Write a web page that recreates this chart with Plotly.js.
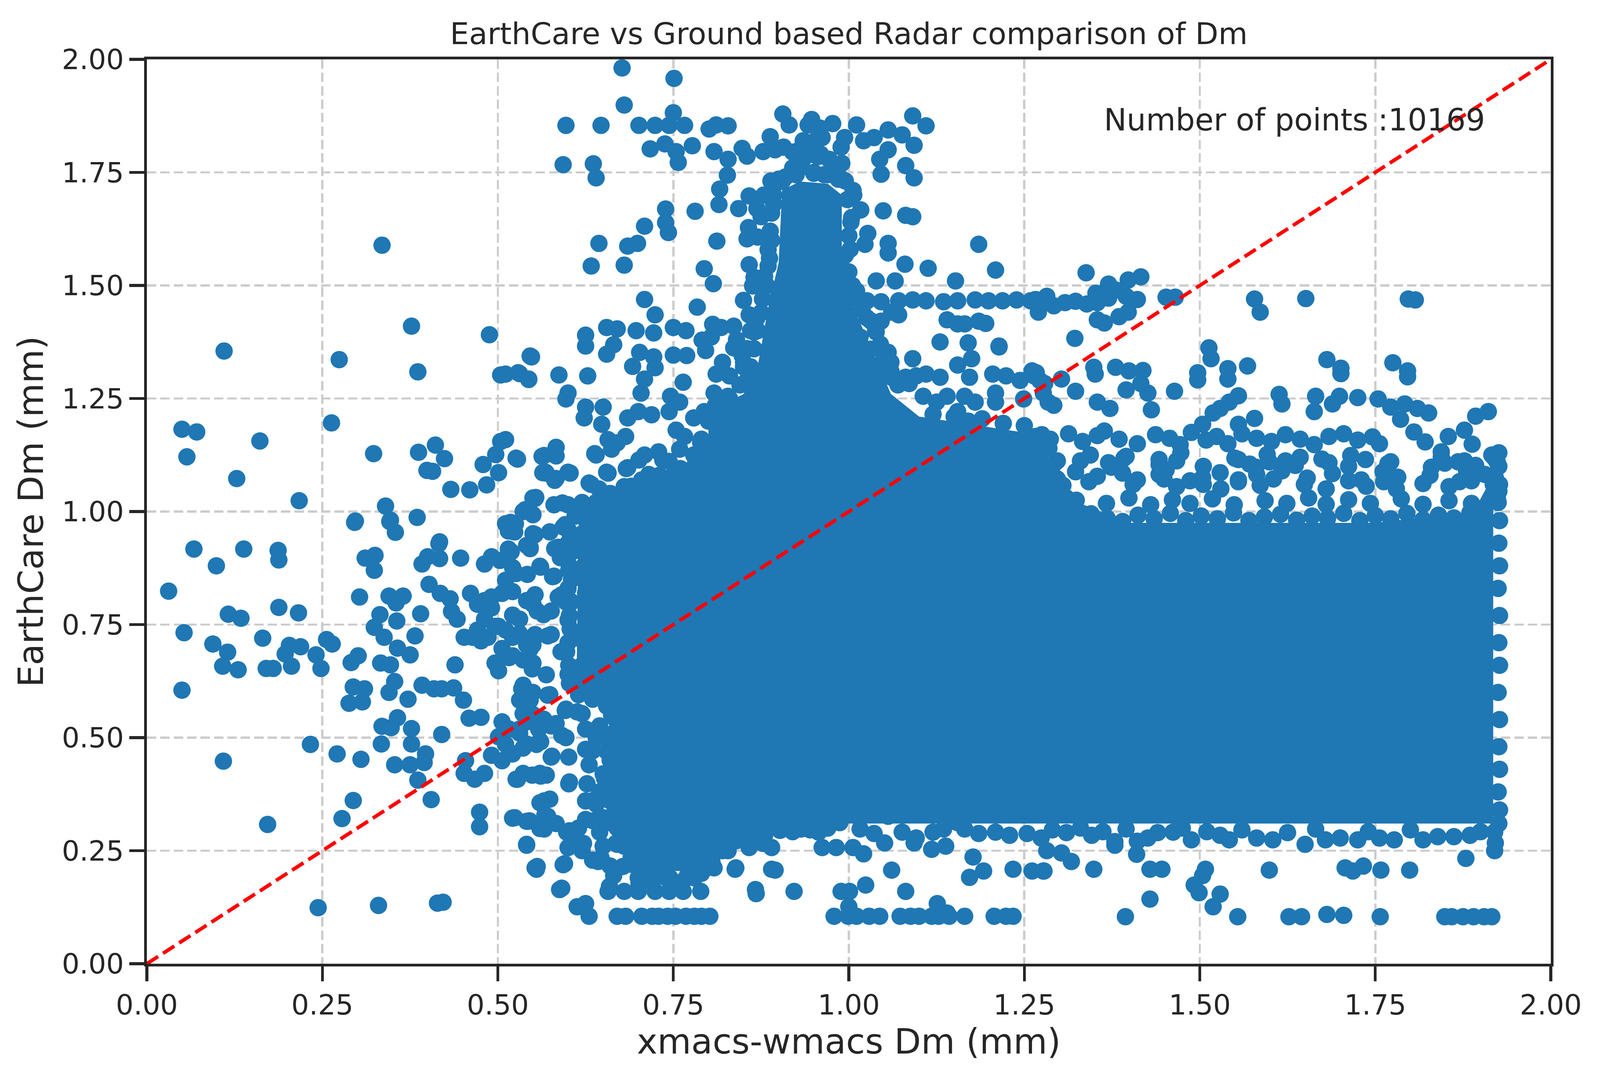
<!DOCTYPE html>
<html>
<head>
<meta charset="utf-8">
<script src="https://cdn.plot.ly/plotly-3.0.1.min.js"></script>
<style>
  html, body { margin: 0; padding: 0; background: #ffffff; overflow: hidden; }
  #plotly__graph { position: absolute; left: 0; top: 0; }
</style>
</head>
<body>
<div id="plotly__graph"></div>
<script>
// **********************************************************************************************
// DATA  (x = xmacs-wmacs Dm, y = EarthCare Dm, both mm)

const pointCount = 10169;
const oneToOne = [0, 2];
const tickVals = [0, 0.25, 0.5, 0.75, 1.0, 1.25, 1.5, 1.75, 2.0];

// outline of the saturated blob where the markers merge into solid colour
const coreX = [0.675, 0.705, 0.79, 0.83, 0.90, 1.00, 1.30, 1.60, 1.918, 1.918, 1.89, 1.75, 1.55, 1.40, 1.31, 1.27, 1.10, 1.06, 1.035, 1.01, 0.99, 0.99, 0.97, 0.93, 0.905, 0.90, 0.885, 0.87, 0.85, 0.80, 0.80, 0.70, 0.645, 0.615, 0.612, 0.67];
const coreY = [0.26, 0.205, 0.205, 0.26, 0.29, 0.31, 0.31, 0.31, 0.31, 1.08, 1.00, 0.975, 0.975, 0.975, 1.03, 1.17, 1.21, 1.26, 1.35, 1.44, 1.55, 1.70, 1.725, 1.73, 1.71, 1.55, 1.45, 1.32, 1.26, 1.22, 1.12, 1.065, 1.025, 0.975, 0.61, 0.565];

// sparse points, x < 0.57
const leftSparse = [
    [0.335,1.589],[0.110,1.355],[0.274,1.336],[0.377,1.410],[0.386,1.309],
    [0.050,1.182],[0.071,1.176],[0.057,1.121],[0.161,1.156],[0.128,1.073],[0.217,1.024],[0.263,1.196],[0.323,1.128],
    [0.387,1.131],[0.411,1.147],[0.424,1.117],[0.399,1.091],[0.407,1.089],[0.433,1.049],
    [0.297,0.979],[0.340,1.012],[0.347,0.981],[0.354,0.954],[0.385,0.987],[0.417,0.933],
    [0.031,0.824],[0.067,0.917],[0.099,0.880],[0.138,0.917],[0.187,0.914],[0.188,0.893],
    [0.053,0.732],[0.050,0.605],[0.116,0.773],[0.134,0.764],[0.188,0.788],[0.216,0.776],
    [0.094,0.707],[0.115,0.689],[0.108,0.658],[0.130,0.650],[0.165,0.720],[0.170,0.653],[0.180,0.653],[0.197,0.685],
    [0.206,0.658],[0.203,0.704],[0.219,0.701],[0.241,0.683],[0.248,0.653],[0.256,0.717],[0.264,0.707],
    [0.109,0.448],[0.172,0.308],[0.233,0.485],
    [0.244,0.124],[0.330,0.129],[0.414,0.134],[0.422,0.136],
    [0.271,0.464],[0.305,0.452],[0.278,0.321],[0.294,0.361],
    [0.291,0.666],[0.301,0.681],[0.294,0.612],[0.310,0.608],[0.288,0.576],[0.307,0.579],[0.303,0.811],[0.311,0.897],
    [0.325,0.903],[0.324,0.870],[0.296,0.976],[0.346,0.978],
    [0.332,0.772],[0.324,0.744],[0.338,0.722],[0.333,0.665],[0.347,0.661],[0.357,0.698],[0.345,0.813],[0.355,0.798],
    [0.365,0.813],[0.356,0.758],[0.375,0.683],[0.382,0.725],[0.390,0.774],[0.392,0.884],[0.402,0.839],[0.418,0.819],
    [0.400,0.900],[0.416,0.929],[0.417,0.896],
    [0.345,0.600],[0.353,0.624],[0.372,0.585],[0.392,0.616],[0.409,0.608],[0.420,0.608],[0.437,0.610],
    [0.335,0.525],[0.348,0.522],[0.357,0.544],[0.334,0.486],[0.353,0.440],[0.377,0.486],[0.377,0.520],[0.375,0.440],
    [0.397,0.464],[0.395,0.445],[0.386,0.406],[0.405,0.363],[0.420,0.507],
    [0.432,0.807],[0.434,0.779],[0.447,0.897],[0.442,0.762],[0.452,0.722],[0.439,0.661],[0.451,0.583],[0.459,0.543],
    [0.476,0.545],[0.454,0.449],[0.452,0.421],[0.467,0.408],[0.481,0.421],[0.474,0.335],[0.474,0.303],[0.464,0.722],[0.476,0.714],
    [0.460,1.048],[0.484,1.059],[0.479,1.104],[0.497,1.126],[0.501,1.086],[0.504,1.155],[0.528,1.116],[0.539,1.004],
    [0.553,1.029],[0.518,0.976],[0.524,0.955],[0.550,0.951],[0.563,1.122],[0.564,1.086],
    [0.488,1.391],[0.504,1.302],[0.531,1.305],[0.544,1.292],[0.548,1.342]
];

// points crowding towards the blob, 0.46 < x < 0.67
const transition = [
    [0.481,0.884],[0.491,0.900],[0.503,0.892],[0.515,0.917],[0.515,0.957],[0.525,0.973],[0.538,1.002],[0.541,0.925],
    [0.521,0.876],[0.511,0.848],[0.491,0.811],[0.506,0.819],[0.521,0.823],[0.481,0.803],[0.491,0.787],[0.461,0.819],
    [0.471,0.795],[0.481,0.762],[0.501,0.746],[0.521,0.771],[0.531,0.762],[0.541,0.803],[0.550,0.795],
    [0.471,0.738],[0.486,0.722],[0.496,0.746],[0.511,0.738],[0.521,0.722],[0.531,0.730],[0.541,0.705],[0.550,0.705],
    [0.506,0.697],[0.521,0.681],[0.536,0.672],[0.496,0.665],[0.501,0.648],[0.550,0.665],[0.536,0.616],[0.550,0.600],
    [0.531,0.583],[0.506,0.535],[0.516,0.519],[0.531,0.510],[0.541,0.535],[0.550,0.551],[0.501,0.502],[0.511,0.485],
    [0.555,0.485],[0.558,0.519],
    [0.491,0.461],[0.506,0.449],[0.528,0.408],[0.536,0.421],[0.541,0.486],[0.546,0.583],[0.524,0.323],[0.543,0.315],
    [0.541,0.262],[0.555,0.209],[0.560,0.299],[0.560,0.356],[0.560,0.421],
    [0.511,0.973],[0.521,0.956],[0.519,0.911],[0.546,0.918],[0.561,0.877],[0.526,0.863],[0.581,0.918],[0.593,0.966],
    [0.618,0.949],[0.630,0.977],[0.578,0.856],[0.586,0.811],[0.549,0.808],[0.556,0.780],[0.576,0.780],[0.551,0.718],
    [0.571,0.725],[0.516,0.677],[0.534,0.608],[0.541,0.594],[0.571,0.594],[0.536,0.553],[0.531,0.519],[0.566,0.539],
    [0.576,0.526],[0.596,0.560],[0.620,0.553],[0.591,0.505],[0.625,0.519],[0.645,0.526],[0.561,0.491],[0.536,0.477],
    [0.576,0.457],[0.601,0.457],[0.521,0.464],[0.526,0.408],[0.561,0.415],[0.601,0.398],[0.635,0.471],[0.625,0.360],
    [0.640,0.353],[0.566,0.360],[0.571,0.326],[0.521,0.322],[0.541,0.315],[0.566,0.298],[0.598,0.291],[0.625,0.319],
    [0.645,0.291],[0.660,0.312],[0.670,0.267],[0.610,0.271],[0.635,0.229],[0.665,0.195],[0.704,0.216],
    [0.600,0.900],[0.610,0.860],[0.625,0.820],[0.640,0.870],[0.600,0.760],[0.615,0.720],[0.635,0.760],[0.645,0.680],
    [0.620,0.660],[0.600,0.640],[0.640,0.620],[0.590,0.690],[0.605,0.800],[0.650,0.940],[0.640,0.910],
    [0.583,1.123],[0.569,1.085],[0.583,1.073],[0.603,1.085],[0.640,1.125],[0.657,1.085],[0.633,1.060],[0.644,1.050],
    [0.683,1.095],[0.701,1.114],[0.715,1.082],[0.735,1.114],[0.554,1.031],[0.592,1.019],[0.609,1.009],[0.550,0.993],
    [0.574,0.955],[0.596,0.971],[0.553,0.949],[0.586,0.921],[0.546,0.921],[0.589,0.898],[0.615,0.914],[0.560,0.879],
    [0.580,0.857],[0.602,0.879],[0.622,0.879],[0.542,0.861],[0.553,0.816],[0.591,0.816],[0.565,0.772],[0.553,0.728],
    [0.576,0.728],[0.546,0.696],[0.549,0.652],[0.569,0.639],[0.546,0.595],[0.574,0.595],[0.597,0.563],[0.565,0.541],
    [0.583,0.531],[0.613,0.557],[0.560,0.493],[0.597,0.500],[0.577,0.459],[0.625,0.474],[0.549,0.417],[0.569,0.417],
    [0.602,0.402],[0.627,0.398],[0.636,0.361],[0.574,0.364],[0.567,0.329],[0.545,0.316],[0.583,0.310],[0.602,0.294],
    [0.622,0.266],[0.636,0.316],[0.650,0.323],[0.602,0.259],[0.556,0.215],[0.595,0.221],[0.647,0.234],[0.668,0.266],
    [0.591,0.167],[0.659,0.171],[0.678,0.215],[0.701,0.177],[0.724,0.221],[0.770,0.190],[0.804,0.215],[0.839,0.212],
    [0.867,0.164],[0.890,0.209],[0.878,0.266],[0.860,0.266],
    [0.650,0.420],[0.645,0.380],[0.655,0.470],[0.640,0.500],[0.630,0.440],[0.615,0.300],[0.650,0.260]
];

// the tall column around x = 0.9 and the points above it
const spike = [
    [0.677,1.981],[0.751,1.958],[0.680,1.899],[0.597,1.854],[0.647,1.854],[0.701,1.854],[0.724,1.854],[0.744,1.854],
    [0.766,1.854],[0.750,1.882],[0.801,1.846],[0.811,1.855],[0.828,1.853],[0.717,1.802],[0.738,1.813],[0.754,1.796],
    [0.757,1.772],[0.777,1.809],[0.808,1.796],[0.828,1.779],[0.848,1.803],[0.855,1.786],
    [0.906,1.879],[0.915,1.855],[0.888,1.829],[0.878,1.796],[0.895,1.800],[0.907,1.806],[0.947,1.867],[0.942,1.855],
    [0.959,1.848],[0.977,1.858],[0.935,1.820],[0.952,1.820],[0.962,1.827],[0.972,1.779],
    [1.011,1.855],[0.994,1.827],[0.989,1.806],[1.021,1.820],[1.036,1.827],[1.056,1.844],[1.056,1.800],[1.044,1.779],
    [1.076,1.833],[1.091,1.875],[1.110,1.853],[1.093,1.810],[1.081,1.765],[1.046,1.746],[1.093,1.738],
    [0.593,1.767],[0.636,1.769],[0.640,1.738],[0.827,1.744],[0.816,1.713],[0.815,1.679],[0.739,1.669],[0.739,1.639],
    [0.743,1.617],[0.781,1.664],[0.709,1.631],[0.699,1.593],[0.685,1.587],[0.644,1.593],[0.633,1.543],[0.680,1.545],
    [0.812,1.598],[0.843,1.670],[0.858,1.698],[0.794,1.537],[0.807,1.504],[0.858,1.546],[0.863,1.499],[0.850,1.467],
    [1.049,1.665],[1.081,1.655],[1.091,1.652],[1.056,1.593],[1.056,1.572],[1.039,1.510],[1.066,1.510],[1.080,1.547],
    [1.113,1.538],[1.185,1.591],[1.209,1.534],[1.152,1.510],
    [0.920,1.760],[0.950,1.750],[0.980,1.760],[0.910,1.740],[0.935,1.780],[0.960,1.790],[0.990,1.770],[0.956,1.785],
    [0.932,1.761],[0.930,1.800],[0.945,1.790],[0.920,1.795],[0.900,1.735],[0.965,1.745],[0.985,1.735],
    // column rim, left side
    [0.889,1.731],[0.879,1.700],[0.869,1.670],[0.875,1.652],[0.857,1.628],[0.855,1.603],[0.870,1.607],[0.885,1.579],
    [0.885,1.543],[0.865,1.518],[0.863,1.500],[0.877,1.470],[0.869,1.428],[0.865,1.397],[0.858,1.435],[0.897,1.469],
    [0.880,1.520],[0.890,1.600],[0.893,1.680],[0.855,1.360],[0.850,1.330],
    // column rim, right side
    [0.995,1.731],[1.007,1.700],[1.017,1.667],[1.003,1.640],[1.027,1.615],[1.023,1.591],[0.995,1.567],[0.988,1.543],
    [0.995,1.518],[1.011,1.488],[0.992,1.470],[1.019,1.446],[1.031,1.422],[1.039,1.397],[1.000,1.610],[0.998,1.690],
    [1.045,1.370],[1.060,1.330]
];

// the looser region left of the column, 0.5 < x < 0.86, 1.0 < y < 1.47
const midLeft = [
    [0.511,1.304],[0.529,1.307],[0.544,1.293],[0.546,1.344],[0.587,1.302],[0.628,1.300],[0.597,1.249],[0.600,1.262],
    [0.625,1.390],[0.625,1.366],[0.655,1.407],[0.670,1.404],[0.655,1.348],[0.665,1.369],[0.697,1.400],[0.722,1.395],
    [0.709,1.469],[0.724,1.435],[0.702,1.352],[0.722,1.342],[0.692,1.321],[0.709,1.293],[0.704,1.262],[0.724,1.318],
    [0.750,1.407],[0.768,1.400],[0.750,1.346],[0.769,1.345],[0.764,1.286],[0.784,1.452],[0.811,1.304],[0.796,1.356],
    [0.806,1.414],[0.818,1.407],[0.836,1.410],[0.791,1.379],[0.804,1.386],[0.836,1.362],[0.848,1.345],
    [0.623,1.207],[0.625,1.231],[0.650,1.231],[0.648,1.193],[0.657,1.159],[0.662,1.138],[0.682,1.166],[0.685,1.207],
    [0.700,1.221],[0.719,1.214],[0.744,1.221],[0.746,1.255],[0.759,1.242],[0.779,1.207],[0.794,1.221],[0.808,1.262],
    [0.828,1.255],
    [0.511,1.159],[0.526,1.118],[0.566,1.124],[0.583,1.142],[0.568,1.087],[0.581,1.069],[0.600,1.087],[0.630,1.063],
    [0.638,1.128],[0.655,1.087],[0.670,1.152],[0.685,1.097],[0.690,1.056],[0.709,1.125],[0.729,1.132],[0.724,1.076],
    [0.754,1.180],[0.766,1.166],[0.744,1.111],[0.759,1.138],[0.779,1.125],[0.789,1.152],
    [0.550,1.030],[0.536,1.000],[0.580,1.015],[0.600,1.015],[0.620,1.020],[0.645,1.015],[0.675,1.030],[0.695,1.050],
    [0.720,1.070],[0.740,1.035],[0.820,1.330],[0.830,1.300],[0.840,1.380],
    [0.800,1.200],[0.790,1.160],[0.780,1.100],[0.750,1.080],[0.680,1.050],[0.650,1.020],[0.625,0.990],
    [0.845,1.280],[0.850,1.320],[0.855,1.360],[0.860,1.400]
];

// right of the column and the row near y = 1.47
const midRight = [
    [1.071,1.435],[1.046,1.421],[1.026,1.428],[1.016,1.386],[1.031,1.359],[1.056,1.352],[1.091,1.338],[1.046,1.317],
    [1.061,1.297],[1.081,1.297],[1.096,1.300],[1.110,1.304],[1.130,1.297],[1.086,1.283],[1.106,1.255],[1.125,1.242],
    [1.140,1.255],[1.165,1.255],[1.180,1.242],[1.209,1.262],[1.155,1.221],[1.170,1.200],[1.209,1.242],[1.224,1.300],
    [1.244,1.290],[1.264,1.300],[1.279,1.283],[1.284,1.242],[1.249,1.249],[1.205,1.304],[1.261,1.311],[1.172,1.297],
    [1.185,1.421],[1.214,1.366],[1.175,1.338],[1.155,1.324],
    [1.026,1.466],[1.046,1.464],[1.071,1.466],[1.091,1.468],[1.110,1.466],[1.135,1.464],[1.155,1.466],[1.180,1.468],
    [1.199,1.466],[1.219,1.466],[1.239,1.468],[1.259,1.466],[1.274,1.462],[1.061,1.441],[1.270,1.441],
    [1.140,1.424],[1.155,1.415],[1.165,1.415],[1.195,1.416],[1.130,1.375],[1.170,1.373],[1.214,1.364],
    [1.266,1.469],[1.282,1.476],[1.292,1.455],[1.308,1.462],[1.323,1.465],[1.339,1.459],[1.354,1.462],[1.370,1.472],
    [1.380,1.490],[1.395,1.476],[1.411,1.469],[1.354,1.424],[1.364,1.417],[1.385,1.431],[1.398,1.441],[1.352,1.483],
    [1.370,1.503],[1.398,1.512],[1.416,1.519],[1.338,1.528],[1.452,1.474],[1.465,1.474],[1.322,1.383],
    [1.578,1.470],[1.586,1.441],[1.651,1.471],[1.797,1.470],[1.807,1.468]
];

// looser band above the right-hand block, 1.0 < y < 1.37
const upperBand = [
    [1.513,1.362],[1.516,1.338],[1.497,1.307],[1.497,1.291],[1.540,1.316],[1.540,1.293],[1.568,1.322],[1.464,1.266],
    [1.681,1.336],[1.701,1.317],[1.701,1.305],[1.775,1.329],[1.796,1.311],[1.796,1.298],
    [1.349,1.319],[1.351,1.304],[1.380,1.319],[1.399,1.311],[1.419,1.312],[1.303,1.293],[1.267,1.307],[1.272,1.290],
    [1.613,1.259],[1.617,1.238],[1.665,1.255],[1.663,1.221],[1.699,1.255],[1.689,1.238],[1.725,1.252],[1.754,1.249],
    [1.772,1.231],[1.792,1.238],[1.810,1.228],[1.826,1.218],[1.786,1.204],[1.805,1.176],[1.821,1.154],[1.854,1.166],
    [1.877,1.180],[1.893,1.211],[1.911,1.221],[1.844,1.132],[1.849,1.107],[1.888,1.149],[1.880,1.090],[1.916,1.125],
    [1.555,1.193],[1.578,1.206],[1.519,1.218],[1.504,1.193],[1.529,1.228],[1.542,1.242],[1.555,1.256],
    [1.277,1.262],[1.292,1.235],[1.323,1.266],[1.354,1.242],[1.372,1.228],[1.395,1.269],[1.416,1.283],[1.426,1.262],[1.431,1.225],
    [1.266,1.166],[1.287,1.160],[1.313,1.172],[1.333,1.155],[1.354,1.168],[1.364,1.178],[1.385,1.160],[1.411,1.150],
    [1.437,1.170],[1.457,1.162],[1.472,1.148],[1.488,1.175],[1.509,1.158],[1.524,1.166],[1.540,1.150],[1.560,1.172],
    [1.581,1.162],[1.602,1.155],[1.622,1.170],[1.643,1.160],[1.663,1.148],[1.684,1.166],[1.705,1.172],[1.725,1.158],
    [1.746,1.165],[1.756,1.150],
    [1.261,1.120],[1.272,1.128],[1.297,1.112],[1.344,1.125],[1.370,1.108],[1.395,1.122],[1.442,1.115],[1.473,1.130],
    [1.550,1.118],[1.571,1.105],[1.596,1.126],[1.622,1.112],[1.643,1.120],[1.684,1.108],[1.715,1.124],[1.736,1.115],
    [1.772,1.110],[1.844,1.120],[1.877,1.112],[1.920,1.118],
    [1.277,1.080],[1.297,1.072],[1.323,1.088],[1.354,1.078],[1.390,1.085],[1.411,1.070],[1.442,1.082],[1.452,1.092],
    [1.504,1.075],[1.529,1.086],[1.555,1.070],[1.581,1.082],[1.617,1.090],[1.653,1.074],[1.689,1.084],[1.730,1.070],
    [1.761,1.088],[1.782,1.076],[1.828,1.080],[1.870,1.066],[1.906,1.082],[1.921,1.075],
    [1.292,1.105],[1.330,1.112],[1.374,1.098],[1.392,1.118],[1.442,1.104],[1.467,1.112],[1.505,1.100],[1.555,1.115],
    [1.580,1.098],[1.599,1.110],[1.636,1.102],[1.674,1.116],[1.712,1.100],[1.768,1.106],[1.830,1.098],[1.868,1.110],
    [1.893,1.102],[1.924,1.108],
    [1.242,1.062],[1.273,1.070],[1.305,1.058],[1.342,1.066],[1.405,1.060],[1.449,1.072],[1.467,1.055],[1.486,1.068],
    [1.505,1.060],[1.530,1.050],[1.555,1.066],[1.586,1.058],[1.605,1.072],[1.649,1.060],[1.680,1.050],[1.712,1.068],
    [1.737,1.056],[1.762,1.066],[1.780,1.050],[1.818,1.062],[1.855,1.055],[1.887,1.068],[1.918,1.060],[1.926,1.045],
    [1.255,1.020],[1.324,1.025],[1.367,1.018],[1.399,1.030],[1.430,1.015],[1.461,1.026],[1.486,1.018],[1.518,1.028],
    [1.549,1.015],[1.593,1.024],[1.624,1.018],[1.655,1.030],[1.680,1.016],[1.712,1.026],[1.743,1.018],[1.787,1.028],
    [1.818,1.016],[1.855,1.024],[1.887,1.018],[1.924,1.028]
];

// outliers under the blob, y < 0.27
const lowTail = [
    [0.670,0.105],[0.682,0.105],[0.705,0.105],[0.720,0.105],[0.729,0.105],[0.742,0.105],[0.753,0.105],[0.768,0.105],
    [0.780,0.105],[0.790,0.105],[0.802,0.105],
    [0.979,0.105],[0.999,0.105],[1.011,0.105],[1.029,0.105],[1.044,0.105],[1.073,0.105],[1.088,0.105],[1.100,0.105],
    [1.118,0.105],[1.128,0.105],[1.143,0.105],[1.165,0.105],[1.207,0.105],[1.224,0.105],[1.234,0.105],
    [1.000,0.126],[1.126,0.133],[1.140,0.112],
    [0.588,0.164],[0.657,0.160],[0.680,0.160],[0.700,0.160],[0.724,0.160],[0.744,0.160],[0.764,0.160],[0.789,0.160],
    [0.868,0.155],[0.922,0.160],[0.989,0.160],[1.001,0.160],[1.024,0.174],[1.081,0.160],
    [0.613,0.126],[0.625,0.133],[0.630,0.105],
    [0.553,0.212],[0.593,0.219],[0.643,0.226],[0.660,0.216],[0.808,0.212],[0.838,0.209],[0.895,0.207],[1.061,0.207],
    [1.177,0.236],[1.192,0.205],[1.172,0.191],[1.234,0.209],[1.261,0.205],[1.278,0.205],
    [0.541,0.264],[0.600,0.257],[0.620,0.250],[0.670,0.264],[0.694,0.243],[0.739,0.250],[0.789,0.257],[0.828,0.250],
    [0.858,0.257],[0.890,0.257],[0.962,0.257],[0.982,0.257],[1.006,0.257],[1.021,0.243],[1.051,0.267],[1.093,0.267],
    [1.118,0.253],[1.138,0.260],
    [1.282,0.250],[1.277,0.205],[1.303,0.245],[1.317,0.226],[1.349,0.209],[1.379,0.262],[1.410,0.242],[1.429,0.209],
    [1.446,0.209],[1.429,0.143],[1.394,0.104],[1.508,0.209],[1.504,0.195],[1.492,0.174],[1.499,0.157],[1.529,0.154],
    [1.519,0.126],[1.554,0.104],[1.599,0.207],[1.627,0.104],[1.645,0.104],[1.681,0.109],[1.705,0.107],[1.707,0.212],
    [1.718,0.205],[1.733,0.216],[1.757,0.104],[1.758,0.207],[1.799,0.207],[1.849,0.104],[1.859,0.104],[1.875,0.104],
    [1.890,0.104],[1.905,0.104],[1.916,0.104],[1.879,0.233],[1.920,0.250],[1.921,0.267]
];

// points on the rim of the blob (bottom, left and right edge)
const rim = [
    [0.902,0.295],[0.932,0.298],[0.957,0.291],[0.987,0.312],[1.016,0.298],[1.036,0.288],[1.056,0.326],[1.076,0.291],
    [1.096,0.278],[1.120,0.291],[1.135,0.298],[1.155,0.312],[1.165,0.298],[1.185,0.288],[1.209,0.291],[1.229,0.284],
    [1.254,0.288],[1.274,0.278],
    [1.346,0.284],[1.379,0.270],[1.411,0.271],[1.426,0.278],[1.462,0.291],[1.488,0.274],[1.529,0.284],[1.542,0.274],
    [1.581,0.278],[1.604,0.274],[1.650,0.264],[1.679,0.274],[1.700,0.278],[1.725,0.274],[1.756,0.278],[1.777,0.274],
    [1.818,0.274],[1.839,0.281],[1.862,0.281],[1.885,0.284],[1.920,0.291],
    [1.926,1.130],[1.926,1.100],[1.927,1.060],[1.925,1.020],[1.927,0.980],[1.926,0.930],[1.927,0.880],[1.925,0.830],
    [1.927,0.770],[1.926,0.710],[1.927,0.660],[1.925,0.600],[1.927,0.540],[1.926,0.480],[1.927,0.430],[1.925,0.380],
    [1.927,0.340],[1.926,0.310],
    [0.690,0.220],[0.700,0.190],[0.720,0.180],[0.740,0.190],[0.760,0.180],[0.780,0.190],[0.795,0.210],[0.800,0.250],[0.680,0.260],
    [0.603,0.950],[0.598,0.900],[0.605,0.850],[0.597,0.800],[0.603,0.740],[0.598,0.690],[0.606,0.640],
    [0.662,0.550],[0.655,0.500],[0.660,0.450],[0.652,0.410],[0.660,0.360],[0.675,0.310]
];

// more rim points so the blob edge breaks up into single markers
const rimExtra = [
    // top of the right-hand block
    [1.300,0.990],[1.322,0.982],[1.345,0.995],[1.368,0.985],[1.390,0.978],[1.412,0.992],[1.435,0.984],[1.458,0.996],
    [1.480,0.980],[1.502,0.990],[1.525,0.984],[1.548,0.997],[1.570,0.980],[1.592,0.988],[1.615,0.994],[1.638,0.981],
    [1.660,0.990],[1.682,0.985],[1.705,0.996],[1.728,0.980],[1.750,0.991],[1.772,0.984],[1.795,0.996],[1.818,0.982],
    [1.840,0.992],[1.862,0.986],[1.885,0.998],[1.905,0.988],
    // bottom gaps
    [1.290,0.296],[1.310,0.290],[1.330,0.300],[1.362,0.292],[1.395,0.298],[1.440,0.290],[1.475,0.300],[1.510,0.292],
    [1.560,0.296],[1.625,0.290],[1.665,0.298],[1.740,0.292],[1.800,0.296],[1.900,0.292],
    [0.840,0.272],[0.860,0.280],[0.880,0.284],[0.920,0.292],[0.945,0.296],[0.970,0.300],
    [0.690,0.235],[0.705,0.210],[0.722,0.195],[0.745,0.190],[0.770,0.195],[0.790,0.200],[0.805,0.225],[0.820,0.250],
    // column outline
    [1.070,1.280],[1.060,1.310],[1.050,1.340],[1.038,1.400],[1.015,1.470],[1.005,1.500],[1.000,1.530],[1.002,1.580],
    [1.004,1.650],[1.006,1.710],[0.990,1.735],[0.970,1.745],[0.950,1.748],[0.925,1.745],[0.905,1.730],[0.893,1.700],
    [0.890,1.660],[0.888,1.620],[0.887,1.560],[0.883,1.500],[0.875,1.440],[0.870,1.400],[0.865,1.360],[0.860,1.320],
    [0.855,1.290],[0.830,1.250],[0.810,1.235],
    // left edge
    [0.610,0.990],[0.600,0.960],[0.600,0.930],[0.601,0.870],[0.600,0.830],[0.602,0.770],[0.600,0.710],[0.601,0.660],
    [0.602,0.620],[0.615,0.595],[0.635,0.585],[0.655,0.570],[0.668,0.540],[0.665,0.510],[0.668,0.480],[0.665,0.450],
    [0.668,0.420],[0.665,0.390],[0.668,0.360],[0.665,0.330],[0.670,0.300],[0.675,0.270],
    // upper left of the blob
    [0.810,1.200],[0.810,1.160],[0.800,1.130],[0.785,1.110],[0.760,1.095],[0.730,1.080],[0.705,1.070],[0.680,1.055],
    [0.660,1.040],[0.640,1.020],[0.625,1.000],
    // shoulder right of the column
    [1.120,1.215],[1.150,1.210],[1.190,1.205],[1.220,1.195],[1.250,1.190],[1.275,1.170],[1.285,1.140],[1.290,1.100],
    [1.300,1.060],[1.310,1.030]
];

// **********************************************************************************************
// SIZE  (everything is laid out for a 4416 x 2776 canvas and scaled to the window)

const W = window.innerWidth || 4416;
const H = window.innerHeight || 2776;
const k = W / 4416;
const kv = H / 2776;
const px = v => v * k;

// **********************************************************************************************
// TRACES

const allPoints = [].concat(leftSparse, transition, spike, midLeft, midRight, upperBand, lowTail, rim, rimExtra);

const blue = '#1f77b4';
const ink = '#262626';
const fontFamily = '"DejaVu Sans", "Liberation Sans", sans-serif';

let coreTrace = {
    type: 'scatter',
    mode: 'lines',
    x: coreX,
    y: coreY,
    fill: 'toself',
    fillcolor: blue,
    line: { width: 0, color: blue },
    hoverinfo: 'skip',
    showlegend: false
};

let scatterTrace = {
    type: 'scatter',
    mode: 'markers',
    x: allPoints.map(p => p[0]),
    y: allPoints.map(p => p[1]),
    marker: { color: blue, size: px(48), line: { width: 0 } },
    showlegend: false
};

let lineTrace = {
    type: 'scatter',
    mode: 'lines',
    x: oneToOne,
    y: oneToOne,
    line: { color: '#ff0000', width: px(10), dash: px(37) + 'px,' + px(16) + 'px' },
    showlegend: false
};

let data = [coreTrace, scatterTrace, lineTrace];

// **********************************************************************************************
// LAYOUT

const axisBase = {
    range: [0, 2],
    tickvals: tickVals,
    tickformat: '.2f',
    ticks: 'outside',
    ticklen: px(40),
    tickwidth: px(8),
    tickcolor: ink,
    tickfont: { family: fontFamily, size: px(77), color: ink },
    showline: true,
    mirror: true,
    linecolor: ink,
    linewidth: px(8),
    showgrid: true,
    gridcolor: '#cccccc',
    gridwidth: px(6),
    griddash: px(26) + 'px,' + px(11) + 'px',
    zeroline: false,
    fixedrange: true
};

let layout = {
    width: W,
    height: H,
    margin: { t: 152 * kv, r: 136 * k, b: 308 * kv, l: 405 * k, pad: 0 },
    paper_bgcolor: '#ffffff',
    plot_bgcolor: '#ffffff',
    font: { family: fontFamily, color: ink },
    title: {
        text: 'EarthCare vs Ground based Radar comparison of Dm',
        font: { family: fontFamily, size: px(83), color: ink },
        xref: 'paper',
        x: 0.5,
        xanchor: 'center',
        yref: 'container',
        y: 0.969,
        yanchor: 'middle'
    },
    xaxis: Object.assign({}, axisBase, {
        title: { text: 'xmacs-wmacs Dm (mm)', font: { family: fontFamily, size: px(96), color: ink }, standoff: px(26) }
    }),
    yaxis: Object.assign({}, axisBase, {
        title: { text: 'EarthCare Dm (mm)', font: { family: fontFamily, size: px(96), color: ink }, standoff: px(22) }
    }),
    annotations: [{
        xref: 'x', yref: 'y',
        x: 1.362, y: 1.866,
        xanchor: 'left', yanchor: 'middle',
        text: 'Number of points :' + pointCount,
        showarrow: false,
        font: { family: fontFamily, size: px(84), color: ink }
    }],
    showlegend: false,
    dragmode: false
};

// **********************************************************************************************
// CONFIG

const config = {
    responsive: false,
    displaylogo: false,
    displayModeBar: false,
    staticPlot: true
};

// **********************************************************************************************
// CREATE AND APPEND

const div = document.getElementById('plotly__graph');
div.style.width = W + 'px';
div.style.height = H + 'px';
Plotly.newPlot(div, data, layout, config);
</script>
</body>
</html>
